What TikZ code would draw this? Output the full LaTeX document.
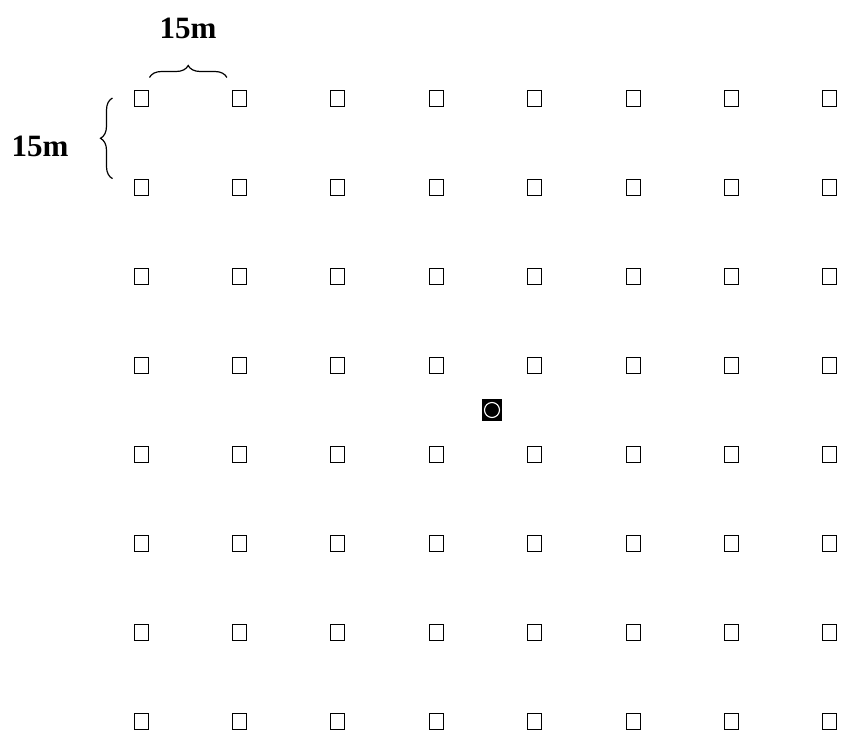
\documentclass[tikz,border=0pt]{standalone}
\usepackage{fontspec}
\setmainfont{Liberation Serif}
\usetikzlibrary{decorations.pathreplacing, calc}
\tikzset{
  plotbox/.style={draw, line width=1pt, minimum width=14pt, minimum height=16pt, inner sep=0pt},
  wellbox/.style={fill=black, minimum width=20pt, minimum height=22pt, inner sep=0pt},
  spanbrace/.style={decorate, decoration={brace, amplitude=12pt}, line width=1.2pt},
  spanlabel/.style={font={\bfseries\fontsize{31pt}{31pt}\selectfont}, inner sep=0pt}
}

\begin{document}
\begin{tikzpicture}[x=1pt, y=-1pt]
  \useasboundingbox (0,0) rectangle (841,734);
  % grid of plots
  \foreach \r in {1,...,8} {
    \foreach \c in {1,...,8} {
      \node[plotbox] (p-\r-\c) at ({141+(\c-1)*98.4}, {98+(\r-1)*89.1}) {};
    }
  }
  % well in the middle
  \node[wellbox] (well) at (492,410) {};
  \draw[white, line width=1.1pt] (well.center) circle (7.5pt);
  % spacing marks
  \draw[spanbrace] ($(p-1-1.north east)+(1,-12)$) -- ($(p-1-2.north west)+(-5,-12)$);
  \node[spanlabel] (toplabel) at (188,28) {15m};
  \draw[spanbrace] ($(p-2-1.north west)+(-21,0)$) -- ($(p-1-1.west)+(-21,0)$);
  \node[spanlabel] (sidelabel) at (40,146) {15m};
\end{tikzpicture}
\end{document}
